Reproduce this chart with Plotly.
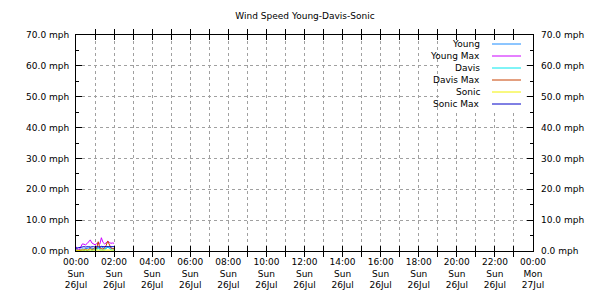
import plotly.graph_objects as go
import pandas as pd

# ---- data ----
minutes = list(range(0, 125, 5))
times = [pd.Timestamp("2015-07-26 00:00") + pd.Timedelta(minutes=m) for m in minutes]

young     = [0.5, 0.3, 0.2, 0.5, 0.7, 0.6, 0.7, 0.8, 1.0, 1.1, 0.8, 0.7, 0.6, 0.8, 1.0, 0.8, 1.3, 1.0, 0.8, 0.9, 1.2, 1.0, 0.8, 0.8, 0.7]
young_max = [1.4, 0.4, 0.3, 1.4, 2.3, 2.2, 2.0, 2.4, 3.0, 3.6, 2.6, 2.2, 2.0, 2.4, 2.6, 2.2, 4.3, 2.8, 2.3, 2.6, 3.2, 2.8, 2.5, 2.6, 2.5]
davis     = [0.0, 0.0, 0.0, 0.1, 0.2, 0.1, 0.3, 0.1, 0.2, 0.4, 0.2, 0.3, 0.5, 0.3, 1.2, 0.4, 0.3, 0.3, 0.4, 0.8, 1.3, 0.9, 0.4, 0.3, 0.3]
davis_max = [0.0, 0.0, 0.0, 0.2, 0.4, 0.3, 0.6, 0.2, 0.5, 0.9, 0.4, 0.6, 1.2, 0.8, 3.0, 1.0, 0.8, 0.6, 1.0, 1.8, 3.2, 2.2, 1.0, 0.8, 0.7]
sonic     = [0.3, 0.2, 0.2, 0.3, 0.3, 0.4, 0.3, 0.4, 0.4, 0.3, 0.3, 0.4, 0.3, 0.3, 0.4, 0.4, 0.5, 0.4, 0.3, 0.4, 0.4, 0.3, 0.3, 0.4, 0.3]
sonic_max = [0.9, 1.0, 1.2, 1.3, 1.4, 1.4, 1.3, 1.4, 1.4, 1.3, 1.4, 1.4, 1.3, 1.4, 1.4, 1.3, 1.5, 1.4, 1.4, 1.3, 1.4, 1.4, 1.3, 1.4, 1.4]

series_names = ["Young", "Young Max", "Davis", "Davis Max", "Sonic", "Sonic Max"]
series_values = [young, young_max, davis, davis_max, sonic, sonic_max]
series_colors = ["#1a8cff", "#cc00ff", "#00e8ee", "#c84000", "#f2f200", "#0000c8"]

y_tickvals = [0, 10, 20, 30, 40, 50, 60, 70]
y_ticktext = ["%.1f mph" % v for v in y_tickvals]

x_start = pd.Timestamp("2015-07-26 00:00")
x_tickvals = [x_start + pd.Timedelta(hours=h) for h in range(0, 25)]
x_ticktext = []
for h in range(0, 25):
    t = x_start + pd.Timedelta(hours=h)
    if h % 2 == 0:
        x_ticktext.append(t.strftime("%H:%M") + "<br>" + t.strftime("%a") + "<br>" + t.strftime("%d%b"))
    else:
        x_ticktext.append("")

FONT = "DejaVu Sans"
fig = go.Figure()
for name, vals, col in zip(series_names, series_values, series_colors):
    fig.add_trace(go.Scatter(x=times, y=vals, mode="lines", name=name,
                             line=dict(color=col, width=1), showlegend=False))
# invisible trace to activate right axis
fig.add_trace(go.Scatter(x=[times[0]], y=[0], yaxis="y2", mode="lines",
                         line=dict(width=0), showlegend=False, hoverinfo="skip"))

W, H = 610, 300
L, R, T, B = 76, 77, 35, 49
pw, ph = W - L - R, H - T - B
XTICK, YTICK = 5, 6

fig.update_layout(
    width=W, height=H,
    margin=dict(l=L, r=R, t=T, b=B, pad=0),
    paper_bgcolor="white", plot_bgcolor="white",
    font=dict(family=FONT, size=9, color="black"),
    title=dict(text="Wind Speed Young-Davis-Sonic", x=0.5, xanchor="center",
               y=1 - 16 / H, yanchor="middle", font=dict(size=9, family=FONT)),
    showlegend=False,
    xaxis=dict(type="date", range=[x_start, x_start + pd.Timedelta(hours=24)],
               tickmode="array", tickvals=x_tickvals, ticktext=x_ticktext,
               ticks="inside", ticklen=XTICK, tickwidth=1, tickcolor="black",
               showline=True, linecolor="black", linewidth=1, mirror="allticks",
               showgrid=True, gridcolor="#a0a0a0", griddash="3px,3px", gridwidth=1,
               zeroline=False, automargin=False, ticklabelstandoff=2),
    yaxis=dict(range=[0, 70], tickmode="array", tickvals=y_tickvals, ticktext=y_ticktext,
               ticks="inside", ticklen=YTICK, tickwidth=1, tickcolor="black",
               minor=dict(tickmode="linear", tick0=5, dtick=10, ticks="inside", ticklen=3,
                          tickcolor="black", showgrid=False),
               showline=True, linecolor="black", linewidth=1, mirror="allticks",
               showgrid=True, gridcolor="#a0a0a0", griddash="3px,3px", gridwidth=1,
               zeroline=False, automargin=False, ticklabelstandoff=4),
    yaxis2=dict(range=[0, 70], overlaying="y", side="right", tickmode="array",
                tickvals=y_tickvals, ticktext=y_ticktext, ticks="",
                showline=False, showgrid=False, zeroline=False, automargin=False,
                ticklabelstandoff=7),
)

# white legend box hiding the grid (kept clear of the border ticks)
fig.add_shape(type="rect", xref="paper", yref="paper", layer="above",
              x0=(441 - L) / pw, x1=(pw - YTICK - 0.5) / pw,
              y0=(T + ph - 112) / ph, y1=(ph - XTICK - 0.5) / ph,
              fillcolor="white", line=dict(width=0))

# custom legend (text right-aligned, line sample to the right)
text_x = (482 - L) / pw
line_x0 = (492 - L) / pw
line_x1 = (521 - L) / pw
for i, (name, col) in enumerate(zip(series_names, series_colors)):
    py = 44 + 12 * i
    yp = (T + ph - py) / ph
    fig.add_annotation(x=text_x, y=yp, xref="paper", yref="paper", text=name,
                       showarrow=False, xanchor="right", yanchor="middle",
                       font=dict(size=9, family=FONT, color="black"))
    fig.add_shape(type="line", xref="paper", yref="paper", x0=line_x0, x1=line_x1,
                  y0=yp, y1=yp, layer="above", line=dict(color=col, width=1))

fig.write_html("out.html")
